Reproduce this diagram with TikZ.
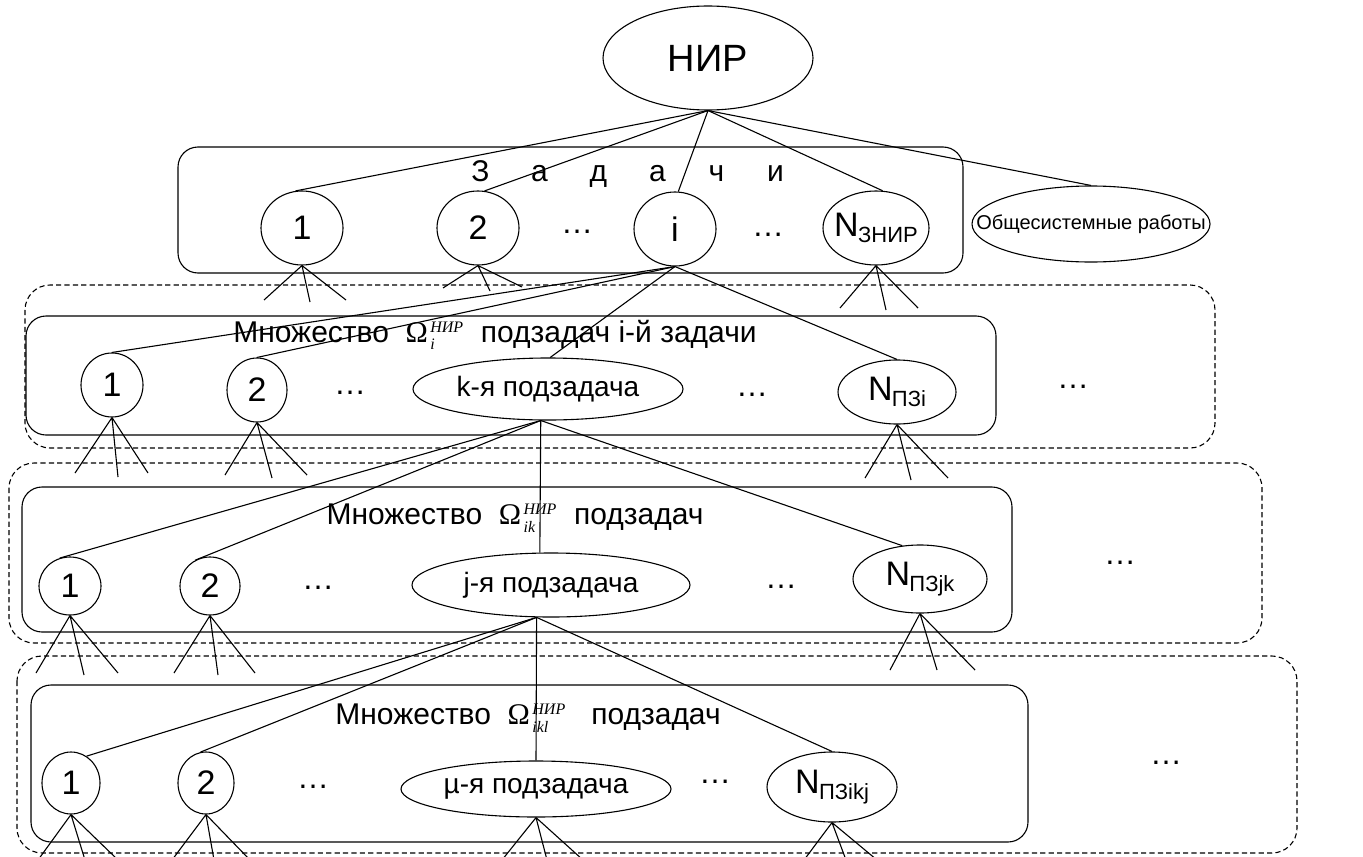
\documentclass[tikz,border=0pt]{standalone}
\usepackage{fontspec}
\setmainfont{Liberation Sans}
\newfontfamily\serifrm{Liberation Serif}
\usetikzlibrary{shapes.geometric}

% Omega with index (below) and НИР (above), Times-like
\newcommand{\omg}[1]{{\serifrm\fontsize{15}{15}\selectfont Ω}\kern1.2pt$^{\mbox{\serifrm\itshape\fontsize{8}{8}\selectfont НИР}}_{\mbox{\serifrm\itshape\fontsize{8}{8}\selectfont #1}}$}
% N with a lowered subscript
\newcommand{\Nsub}[1]{N\kern-0.3pt\raisebox{-0.35ex}{\fontsize{11}{11}\selectfont #1}}
% zero-width label, so that an oval keeps the size it is given
\newcommand{\zw}[1]{\makebox[0pt]{#1}}
% a fan of three short lines below a node
\newcommand{\fan}[7]{%
  \coordinate (#1-a) at (#2,#3);
  \coordinate (#1-b) at (#4,#5);
  \coordinate (#1-c) at (#6,#7);
  \draw[link] (#1.south) -- (#1-a) (#1.south) -- (#1-b) (#1.south) -- (#1-c);}

\tikzset{
  link/.style={line width=0.55pt},
  oval/.style n args={2}{draw, ellipse, line width=0.55pt, inner sep=0pt,
    minimum width=#1pt, minimum height=#2pt},
  num/.style={font=\fontsize{17}{17}\selectfont},
  sub/.style={font=\fontsize{14}{14}\selectfont},
  head/.style={font=\fontsize{15}{15}\selectfont, inner sep=0pt},
  dotsn/.style={font=\fontsize{16}{16}\selectfont, inner sep=0pt},
  solidbox/.style={line width=0.55pt, rounded corners=10pt},
  groupbox/.style={line width=0.55pt, rounded corners=12.5pt, dash pattern=on 2.6pt off 1.6pt},
}

\begin{document}
\begin{tikzpicture}[x=0.5pt, y=-0.5pt]
\useasboundingbox (0,0) rectangle (1363,856);
\clip (0,0) rectangle (1363,856);

% ---- frames ----
\draw[solidbox] (178,147) rectangle (963,273);
\draw[groupbox] (25,285) rectangle (1215,448);
\draw[solidbox] (26,316) rectangle (996,435);
\draw[groupbox] (9,463) rectangle (1262,643);
\draw[solidbox] (22,487) rectangle (1012,632);
\draw[groupbox] (17,656) rectangle (1297,853);
\draw[solidbox] (31,685) rectangle (1028,842);

% ---- root ----
\node[oval={105}{52}, font=\fontsize{19}{19}\selectfont] (nir) at (708,58) {\zw{НИР}};

% ---- tasks ----
\node[head, font=\fontsize{15}{15}\selectfont] (zad) at (628,174)
  {\makebox[29.5pt]{З}\makebox[29.5pt]{а}\makebox[29.5pt]{д}\makebox[29.5pt]{а}\makebox[29.5pt]{ч}\makebox[29.5pt]{и}};
\node[oval={41}{37}, num] (t1) at (302,228) {\zw{1}};
\node[oval={41}{37}, num] (t2) at (478,228) {\zw{2}};
\node[dotsn] (dA) at (577,232) {…};
\node[oval={41}{37}, num] (ti) at (675,229) {\zw{i}};
\node[dotsn] (dB) at (768,235) {…};
\node[oval={53}{37}, num] (tN) at (876,228) {\zw{\Nsub{ЗНИР}}};
\node[oval={119}{38}, font=\fontsize{10}{10}\selectfont] (obsh) at (1091,224) {\zw{Общесистемные работы}};

\draw[link] (nir.south) -- (t1.100);
\draw[link] (nir.south) -- (t2.80);
\draw[link] (nir.south) -- (ti.85);
\draw[link] (nir.south) -- (tN.80);
\draw[link] (nir.south) -- (obsh.north);

% ---- subtasks of task i ----
\node[head] (h2) at (495,335) {Множество \ \omg{i} \ подзадач i-й задачи};
\node[oval={31}{32}, num] (s1) at (112,385) {\zw{1}};
\node[oval={30}{32}, num] (s2) at (257,390) {\zw{2}};
\node[dotsn] (dC) at (350,393) {…};
\node[oval={135}{31}, sub] (k) at (548,389) {\zw{k-я подзадача}};
\node[dotsn] (dD) at (752,395) {…};
\node[oval={59}{32}, num] (sN) at (897,392) {\zw{\Nsub{ПЗi}}};
\node[dotsn] (dE) at (1073,387) {…};

\draw[link] (ti.south) -- (s1.north);
\draw[link] (ti.south) -- (s2.north);
\draw[link] (ti.south) -- (k.86);
\draw[link] (ti.south) -- (sN.north);

% ---- subtasks of subtask k ----
\node[head] (h3) at (515,518) {Множество \ \omg{ik} \ подзадач};
\node[oval={31}{29}, num] (u1) at (70,586) {\zw{1}};
\node[oval={30}{29}, num] (u2) at (210,586) {\zw{2}};
\node[dotsn] (dF) at (318,588) {…};
\node[oval={139}{32}, sub] (j) at (551,585) {\zw{j-я подзадача}};
\node[dotsn] (dG) at (781,587) {…};
\node[oval={67}{34}, num] (uN) at (920,579) {\zw{\Nsub{ПЗjk}}};
\node[dotsn] (dH) at (1120,563) {…};

\draw[link] (k.257) -- (u1.110);
\draw[link] (k.257) -- (u2.120);
\draw[link] (k.257) -- (j.109);
\draw[link] (k.257) -- (uN.118);

% ---- subtasks of subtask j ----
\node[head] (h4) at (528,718) {Множество \ \omg{ikl} \ \ подзадач};
\node[oval={29}{31}, num] (v1) at (71,783) {\zw{1}};
\node[oval={28}{31}, num] (v2) at (206,783) {\zw{2}};
\node[dotsn] (dI) at (313,787) {…};
\node[oval={135}{28}, sub] (mu) at (536,789) {\zw{µ-я подзадача}};
\node[dotsn] (dJ) at (715,782) {…};
\node[oval={65}{35}, num] (vN) at (832,787) {\zw{\Nsub{ПЗikj}}};
\node[dotsn] (dK) at (1166,763) {…};

\draw[link] (j.246) -- (v1.60);
\draw[link] (j.246) -- (v2.100);
\draw[link] (j.246) -- (mu.north);
\draw[link] (j.246) -- (vN.north);

% ---- fans to further levels ----
\fan{t1}{264}{300}{310}{302}{346}{300}
\fan{t2}{443}{288}{490}{291}{522}{287}
\fan{tN}{840}{308}{886}{310}{918}{308}
\fan{s1}{75}{473}{118}{477}{148}{473}
\fan{s2}{225}{475}{272}{478}{307}{475}
\fan{sN}{865}{478}{911}{480}{948}{478}
\fan{u1}{36}{673}{84}{675}{118}{673}
\fan{u2}{174}{673}{218}{675}{255}{673}
\fan{uN}{890}{670}{937}{670}{975}{670}
\fan{v1}{38}{860}{85}{860}{118}{860}
\fan{v2}{172}{860}{214}{860}{250}{860}
\fan{mu}{502}{860}{547}{860}{583}{860}
\fan{vN}{804}{860}{846}{860}{877}{860}
\end{tikzpicture}
\end{document}
